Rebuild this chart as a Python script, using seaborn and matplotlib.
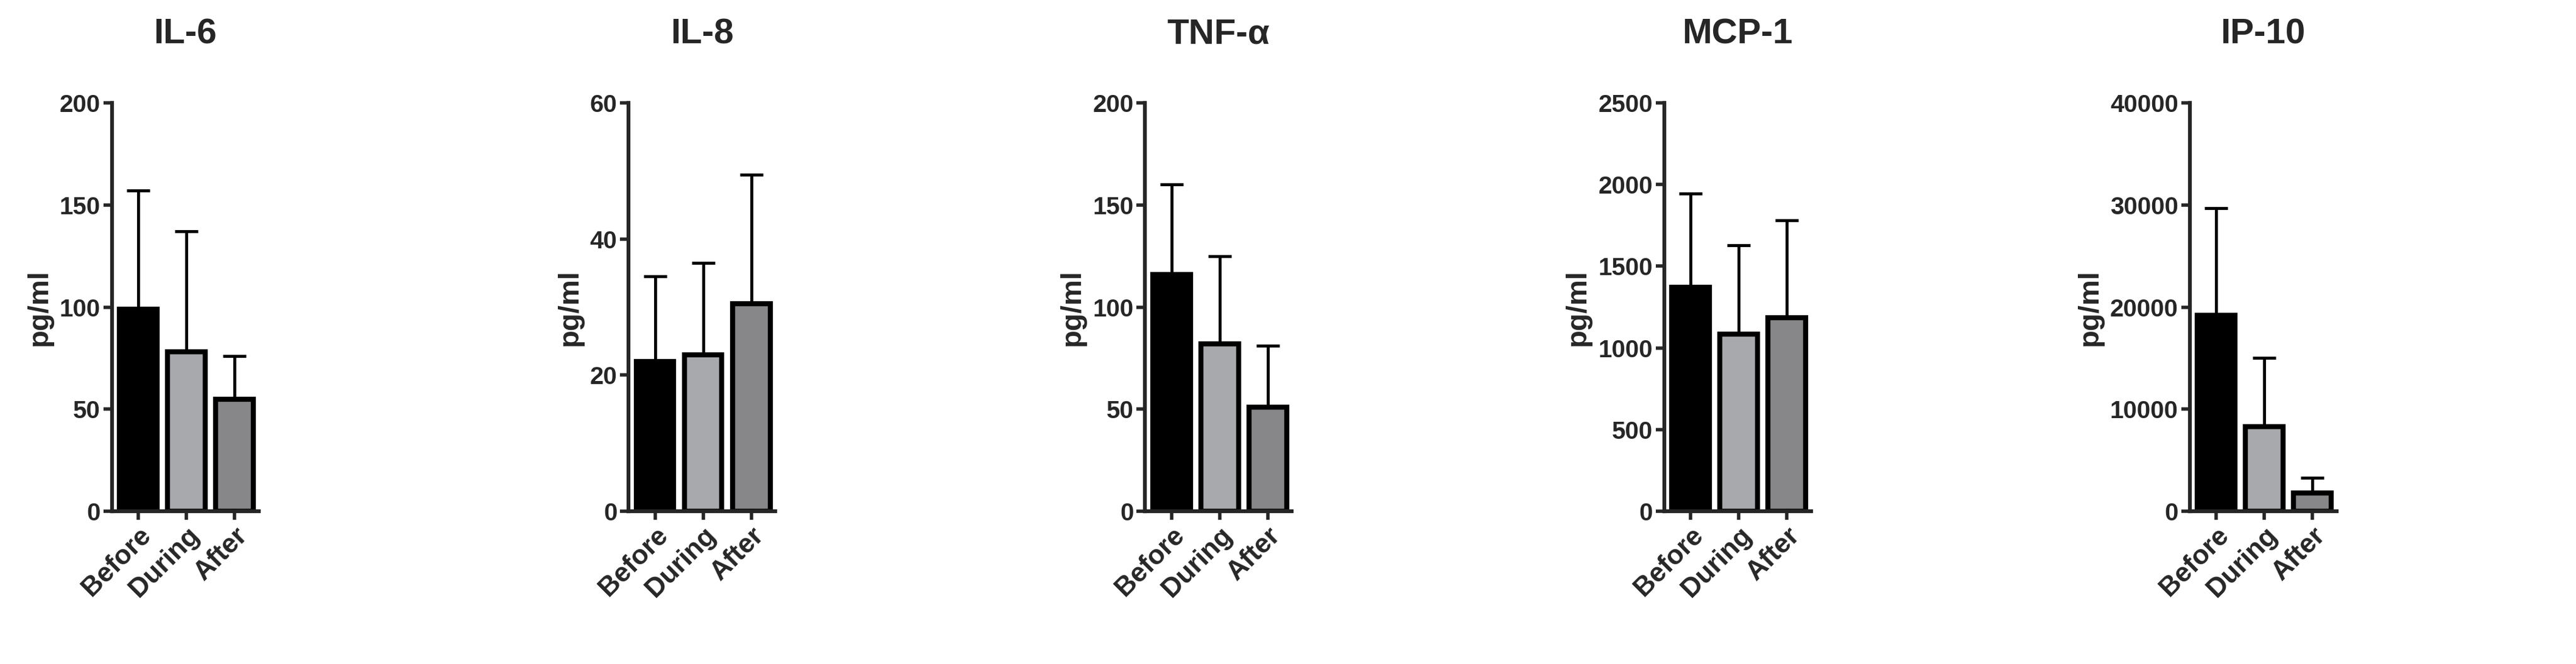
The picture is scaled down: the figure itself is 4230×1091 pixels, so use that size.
import numpy as np
import pandas as pd
import matplotlib
matplotlib.use("Agg")
import matplotlib.pyplot as plt
import seaborn as sns

groups = ["Before", "During", "After"]
colors = ["#000000", "#a7a9ae", "#86878a"]

titles = ["IL-6", "IL-8", "TNF-\u03b1", "MCP-1", "IP-10"]
means = [
    [99, 78, 55],
    [22, 23, 30.5],
    [116, 82, 51],
    [1370, 1085, 1185],
    [19200, 8300, 1800],
]
sds = [
    [58, 59, 21],
    [12.5, 13.5, 19],
    [44, 43, 30],
    [575, 545, 595],
    [10500, 6700, 1500],
]
ymax = [200, 60, 200, 2500, 40000]
ystep = [50, 20, 50, 500, 10000]

sns.set_style("ticks")
plt.rcParams["font.family"] = ["Liberation Sans", "DejaVu Sans"]
plt.rcParams["font.weight"] = "bold"

fig = plt.figure(figsize=(42.3, 10.91), dpi=100)
lefts = [0.0434, 0.244, 0.4445, 0.646, 0.850]

for i, t in enumerate(titles):
    ax = fig.add_axes([lefts[i], 0.23, 0.057, 0.615])
    df = pd.DataFrame({"group": groups, "value": means[i]})
    sns.barplot(data=df, x="group", y="value", hue="group", palette=colors,
                legend=False, width=0.78, edgecolor="black", linewidth=6, ax=ax)
    ax.errorbar(range(3), means[i], yerr=[np.zeros(3), sds[i]], fmt="none",
                ecolor="black", elinewidth=3.5, capsize=14, capthick=3.5, zorder=0)
    ax.set_ylim(0, ymax[i])
    ax.set_yticks(np.arange(0, ymax[i] + 1, ystep[i]))
    ax.set_xlim(-0.55, 2.5)
    ax.set_title(t, fontsize=42, fontweight="bold", pad=70)
    ax.set_xlabel("")
    ax.set_ylabel("pg/ml", fontsize=34, fontweight="bold", labelpad=8)
    ax.tick_params(axis="x", labelsize=32, rotation=45, width=4, length=10)
    ax.tick_params(axis="y", labelsize=29, width=4, length=10)
    for lab in ax.get_xticklabels():
        lab.set_ha("right")
        lab.set_rotation_mode("anchor")
        lab.set_fontweight("bold")
    for lab in ax.get_yticklabels():
        lab.set_fontweight("bold")
    sns.despine(ax=ax)
    for s in ["left", "bottom"]:
        ax.spines[s].set_linewidth(4.5)

fig.savefig("out.png", dpi=100)
